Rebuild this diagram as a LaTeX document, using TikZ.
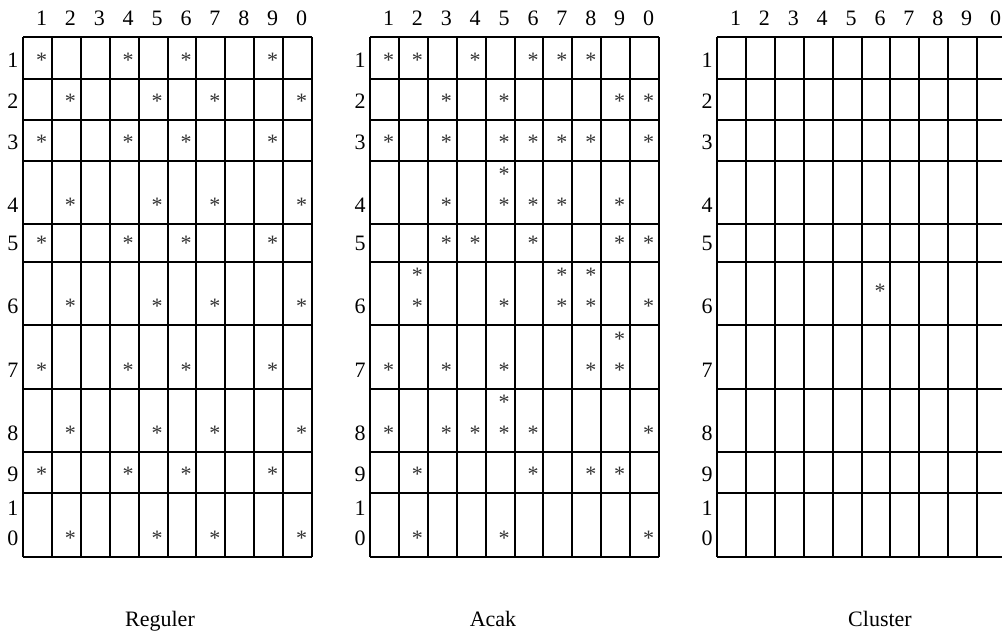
\documentclass[tikz,border=0pt]{standalone}
\usepackage{fontspec}
\setmainfont{Liberation Serif}
\usetikzlibrary{positioning}

\tikzset{
  cellline/.style={line width=1pt},
  lbl/.style={anchor=base, inner sep=0pt, font=\fontsize{11}{13}\selectfont},
  star/.style={lbl, text=black!80},
}

\begin{document}
\begin{tikzpicture}[x=0.5pt,y=-0.5pt]
\useasboundingbox (0,0) rectangle (1002,635);

% Grids (left edges 23, 370, 717)
\foreach \g/\gx in {reg/23, acak/370, clus/717} {
  \foreach \y in {37,79,120,161,224,262,325,389,452,493,557}
    \draw[cellline] (\gx,\y) -- ++(289,0);
  \foreach \c in {0,...,10}
    \draw[cellline] ({\gx+\c*28.9},37) -- ({\gx+\c*28.9},557);
  % column headers
  \foreach \c/\t in {1/1,2/2,3/3,4/4,5/5,6/6,7/7,8/8,9/9,10/0}
    \node[lbl] (\g-col\c) at ({\gx+18.5+(\c-1)*28.9},26) {\t};
  % row headers
  \foreach \r/\b in {1/68,2/109,3/150,4/213,5/251,6/314,7/378,8/441,9/482}
    \node[lbl] (\g-row\r) at ({\gx-10},\b) {\r};
  \node[lbl] (\g-row10a) at ({\gx-10},516) {1};
  \node[lbl] (\g-row10b) at ({\gx-10},546) {0};
}

% Reguler
\foreach \r/\b in {1/68,3/150,5/251,7/378,9/482}
  \foreach \c in {1,4,6,9}
    \node[star] (reg-\r-\c) at ({23+18.5+(\c-1)*28.9},\b) {*};
\foreach \r/\b in {2/109,4/213,6/314,8/441,10/546}
  \foreach \c in {2,5,7,10}
    \node[star] (reg-\r-\c) at ({23+18.5+(\c-1)*28.9},\b) {*};

% Acak (lower line)
\foreach \r/\b/\cols in {1/68/{1,2,4,6,7,8}, 2/109/{3,5,9,10}, 3/150/{1,3,5,6,7,8,10},
    4/213/{3,5,6,7,9}, 5/251/{3,4,6,9,10}, 6/314/{2,5,7,8,10}, 7/378/{1,3,5,8,9},
    8/441/{1,3,4,5,6,10}, 9/482/{2,6,8,9}, 10/546/{2,5,10}}
  \foreach \c in \cols
    \node[star] (acak-\r-\c) at ({370+18.5+(\c-1)*28.9},\b) {*};
% Acak (upper line)
\foreach \r/\b/\cols in {4/182/{5}, 6/283/{2,7,8}, 7/347/{9}, 8/410/{5}}
  \foreach \c in \cols
    \node[star] (acak-\r-\c-up) at ({370+18.5+(\c-1)*28.9},\b) {*};

% Cluster
\node[star] (clus-6-6) at ({717+18.5+5*28.9},299) {*};

% Titles
\node[lbl] (reguler) at (160,627) {Reguler};
\node[lbl] (acak) at (493,627) {Acak};
\node[lbl] (cluster) at (880,627) {Cluster};
\end{tikzpicture}
\end{document}
